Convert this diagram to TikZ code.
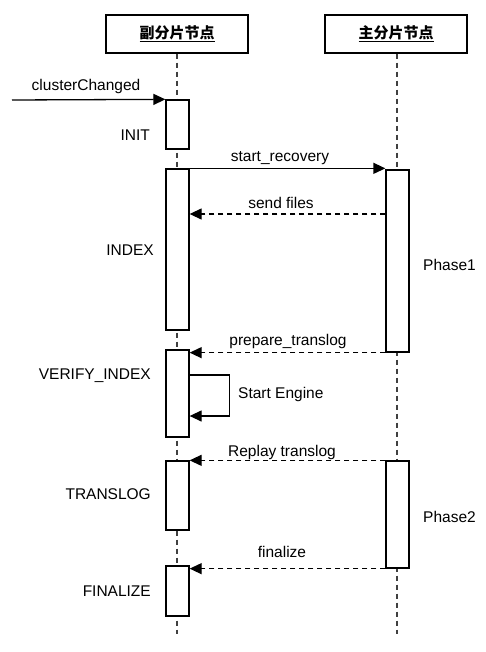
\documentclass[tikz,border=0pt]{standalone}
\usepackage{fontspec}
\setmainfont{Liberation Sans}
\newfontfamily\cjk{Noto Sans CJK SC}
\usetikzlibrary{arrows.meta,shadows}
\begin{document}
\begin{tikzpicture}[x=1pt,y=-1pt,
  txt/.style={font=\fontsize{15.5}{17}\selectfont, inner sep=0pt},
  head/.style={draw, fill=white, line width=1.3pt, minimum width=142pt, minimum height=38pt,
    font=\cjk\fontsize{15}{17}\selectfont\bfseries,
    drop shadow={opacity=0.35, shadow xshift=1pt, shadow yshift=-1.2pt}},
  act/.style={draw, fill=white, line width=1.3pt, minimum width=23pt, inner sep=0pt,
    drop shadow={opacity=0.35, shadow xshift=1pt, shadow yshift=-1.2pt}},
  life/.style={line width=1.5pt, black!75, dash pattern=on 5pt off 4pt},
  msg/.style={line width=1.3pt, -{Triangle[length=12pt,width=11pt]}},
  ret/.style={msg, dash pattern=on 5pt off 4pt}]
\useasboundingbox (0,0) rectangle (486,652);

% participants
\node[head] (hA) at (177,34) {\underline{副分片节点}};
\node[head] (hB) at (396,34) {\underline{主分片节点}};

% lifelines
\coordinate (endA) at (177,634);
\coordinate (endB) at (397,634);
\draw[life] (hA.south) -- (endA);
\draw[life] (hB.south -| endB) -- (endB);

% activation bars of the replica
\node[act, minimum height=49pt]  (A1) at (177.5,124.5) {};
\node[act, minimum height=161pt] (A2) at (177.5,249.5) {};
\node[act, minimum height=87pt]  (A3) at (177.5,393.5) {};
\node[act, minimum height=69pt]  (A4) at (177.5,495.5) {};
\node[act, minimum height=50pt]  (A5) at (177.5,591) {};

% activation bars of the primary
\node[act, minimum height=182pt] (B1) at (397.5,261) {};
\node[act, minimum height=107pt] (B2) at (397.5,514.5) {};

% messages
\coordinate (src) at (12,100);
\draw[msg] (src) -- (A1.north west);
\node[txt] (lcc) at (86,86) {clusterChanged};

\draw[msg] (A2.north east) -- (A2.north east -| B1.west);
\node[txt] (lsr) at (280,158) {start\_recovery};

\draw[ret] (B1.west |- 0,214) -- (A2.east |- 0,214);
\node[txt] (lsf) at (281,203) {send files};

\draw[ret] (B1.south west) -- (B1.south west -| A3.east);
\node[txt] (lpt) at (288,341) {prepare\_translog};

\draw[msg] (A3.east |- 0,375) -- ++(40,0) |- (A3.east |- 0,416);
\node[txt, anchor=west] (lse) at (238,394) {Start Engine};

\draw[ret] (B2.north west) -- (B2.north west -| A4.east);
\node[txt] (lrt) at (282,452) {Replay translog};

\draw[ret] (B2.south west) -- (B2.south west -| A5.east);
\node[txt] (lfi) at (282,552) {finalize};

% state labels
\node[txt, anchor=east] (sInit)  at (150,135) {INIT};
\node[txt, anchor=east] (sIdx)   at (154,250) {INDEX};
\node[txt, anchor=east] (sVer)   at (151,376) {VERIFY\_INDEX};
\node[txt, anchor=east] (sTl)    at (151,494) {TRANSLOG};
\node[txt, anchor=east] (sFin)   at (151,591) {FINALIZE};

% phase labels
\node[txt, anchor=west] (p1) at (423,265) {Phase1};
\node[txt, anchor=west] (p2) at (423,517) {Phase2};
\end{tikzpicture}
\end{document}
